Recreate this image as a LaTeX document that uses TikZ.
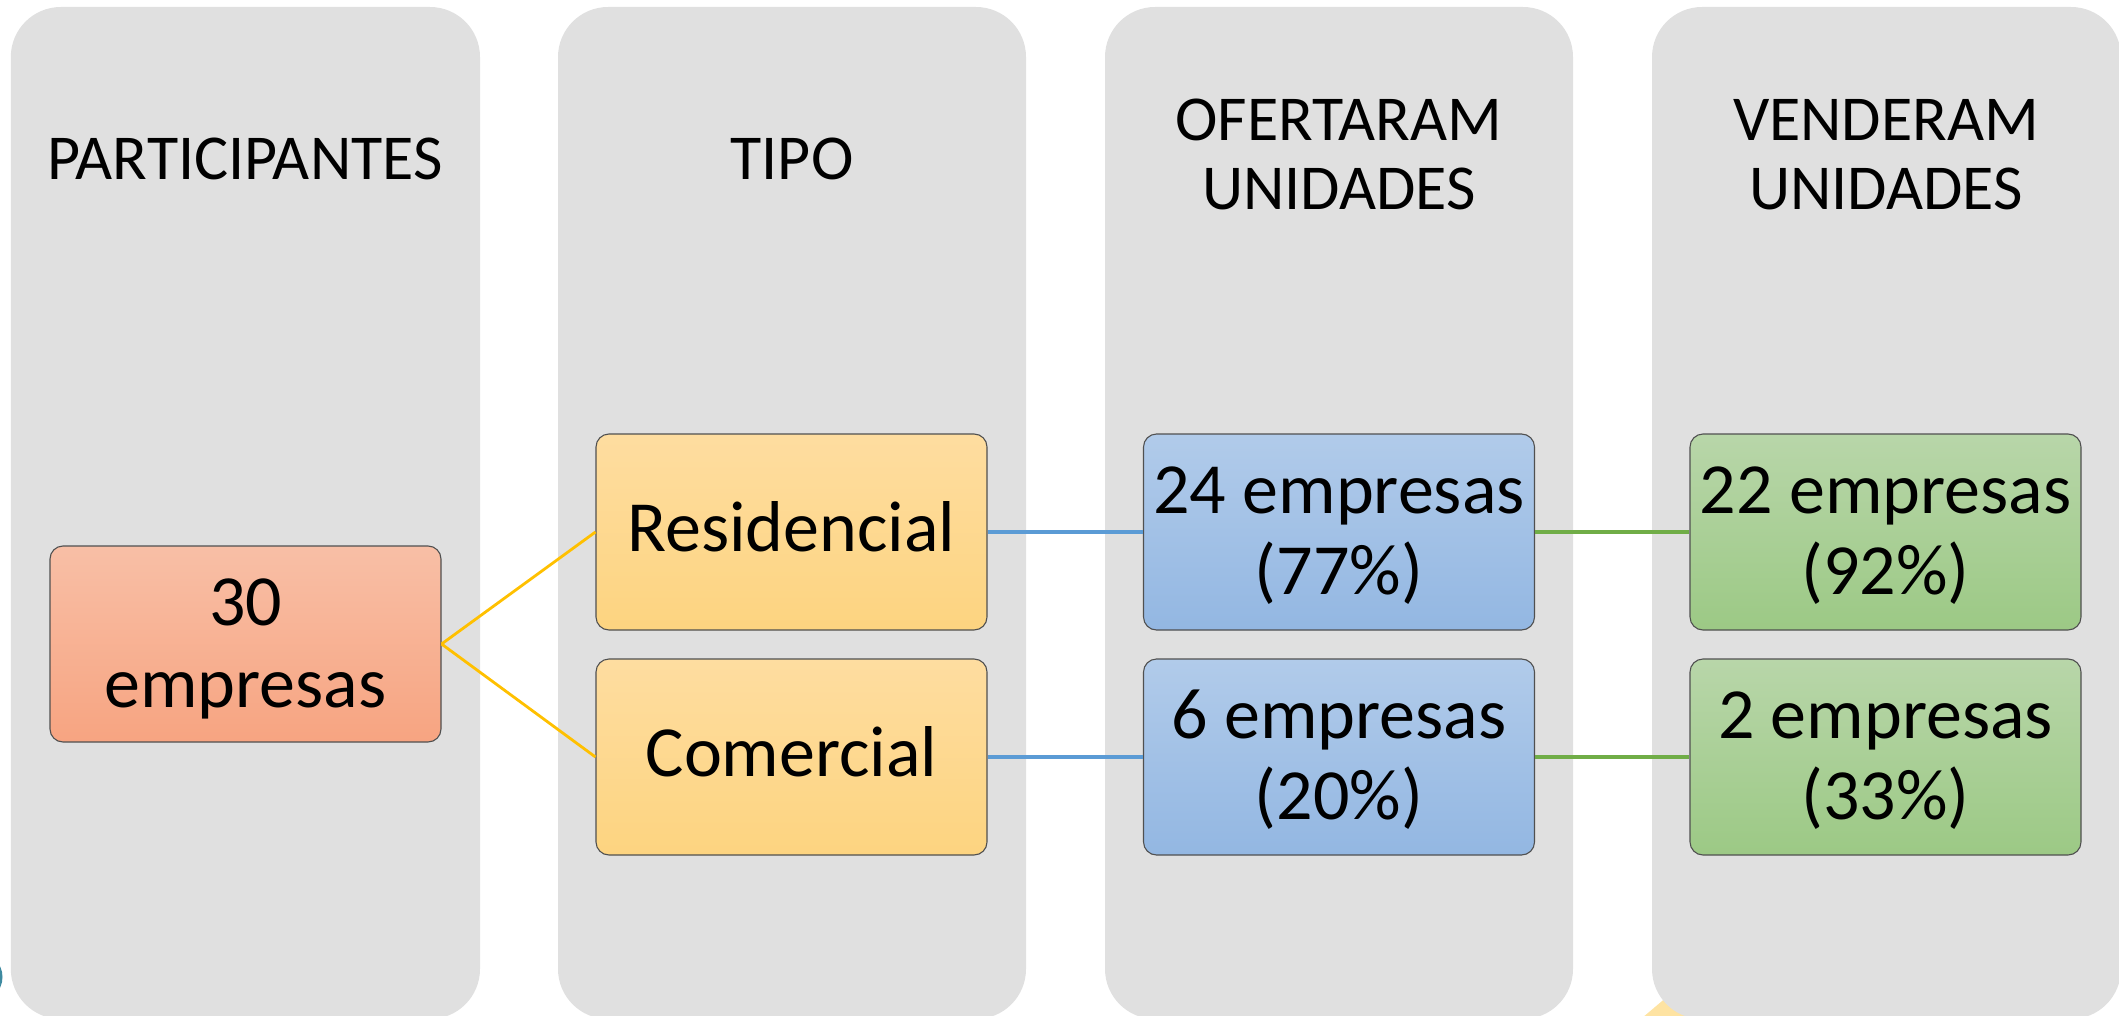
\documentclass[tikz,border=0pt]{standalone}
\usepackage{fontspec}
\setmainfont{Carlito}
\usetikzlibrary{calc}
\definecolor{colgray}{HTML}{E0E0E0}
\definecolor{orT}{HTML}{F8BFA6}
\definecolor{orB}{HTML}{F7A481}
\definecolor{yeT}{HTML}{FEDDA0}
\definecolor{yeB}{HTML}{FDD480}
\definecolor{blT}{HTML}{B1CBEA}
\definecolor{blB}{HTML}{93B7E2}
\definecolor{grT}{HTML}{B8D6A9}
\definecolor{grB}{HTML}{9CC985}
\definecolor{lnY}{HTML}{FFC000}
\definecolor{lnB}{HTML}{5B9BD5}
\definecolor{lnG}{HTML}{70AD47}
\definecolor{edge}{HTML}{505050}
\definecolor{tealarc}{HTML}{3E8AA0}
\definecolor{yelpeak}{HTML}{FEE3A2}
\tikzset{
  databox/.style={draw=edge, line width=1.1pt, rounded corners=13pt, inner sep=0pt,
    minimum width=391pt, minimum height=196pt},
  orbox/.style={databox, top color=orT, bottom color=orB},
  yebox/.style={databox, top color=yeT, bottom color=yeB},
  blbox/.style={databox, top color=blT, bottom color=blB},
  grbox/.style={databox, top color=grT, bottom color=grB},
  boxtext/.style={anchor=base, inner sep=0pt, font=\fontsize{72}{84}\selectfont},
  headtext/.style={anchor=base, inner sep=0pt, font=\fontsize{64}{72}\selectfont},
  column/.style={fill=colgray, rounded corners=50pt},
}
\begin{document}
\begin{tikzpicture}[x=1pt,y=-1pt]
\useasboundingbox (0,0) rectangle (2119,1016);
% partial shapes at the lower edge
\draw[tealarc, line width=3pt] (-24,977) ellipse (25pt and 24pt);
\fill[yelpeak] (1668,996) -- (1720,1040) -- (1616,1040) -- cycle;
% columns
\fill[column] (10.8,7) rectangle (480,1019);
\fill[column] (558,7) rectangle (1026,1019);
\fill[column] (1105,7) rectangle (1573,1019);
\fill[column] (1652,7) rectangle (2121,1019);
% headers
\node[headtext] (h1) at (245,180) {PARTICIPANTES};
\node[headtext] (h2) at (792,180) {TIPO};
\node[headtext] (h3a) at (1339,141) {OFERTARAM};
\node[headtext] (h3b) at (1339,210) {UNIDADES};
\node[headtext] (h4a) at (1886,141) {VENDERAM};
\node[headtext] (h4b) at (1886,210) {UNIDADES};
% boxes
\node[orbox] (e30) at (245.5,644) {};
\node[yebox] (res) at (791.5,532) {};
\node[yebox] (com) at (791.5,757) {};
\node[blbox] (b24) at (1339,532) {};
\node[blbox] (b6) at (1339,757) {};
\node[grbox] (g22) at (1885.5,532) {};
\node[grbox] (g2) at (1885.5,757) {};
% texts
\node[boxtext] (t30a) at ($(e30.center)+(0,-19)$) {30};
\node[boxtext] (t30b) at ($(e30.center)+(0,63)$) {empresas};
\node[boxtext] (tres) at ($(res.center)+(0,19)$) {Residencial};
\node[boxtext] (tcom) at ($(com.center)+(0,19)$) {Comercial};
\node[boxtext] (t24a) at ($(b24.center)+(0,-19)$) {24 empresas};
\node[boxtext] (t24b) at ($(b24.center)+(0,62)$) {(77\%)};
\node[boxtext] (t6a) at ($(b6.center)+(0,-19)$) {6 empresas};
\node[boxtext] (t6b) at ($(b6.center)+(0,62)$) {(20\%)};
\node[boxtext] (t22a) at ($(g22.center)+(0,-19)$) {22 empresas};
\node[boxtext] (t22b) at ($(g22.center)+(0,62)$) {(92\%)};
\node[boxtext] (t2a) at ($(g2.center)+(0,-19)$) {2 empresas};
\node[boxtext] (t2b) at ($(g2.center)+(0,62)$) {(33\%)};
% connectors
\draw[lnY, line width=2.8pt] (e30.east) -- (res.west);
\draw[lnY, line width=2.8pt] (e30.east) -- (com.west);
\draw[lnB, line width=3.2pt] (res.east) -- (b24.west);
\draw[lnB, line width=3.2pt] (com.east) -- (b6.west);
\draw[lnG, line width=3.2pt] (b24.east) -- (g22.west);
\draw[lnG, line width=3.2pt] (b6.east) -- (g2.west);
\end{tikzpicture}
\end{document}
